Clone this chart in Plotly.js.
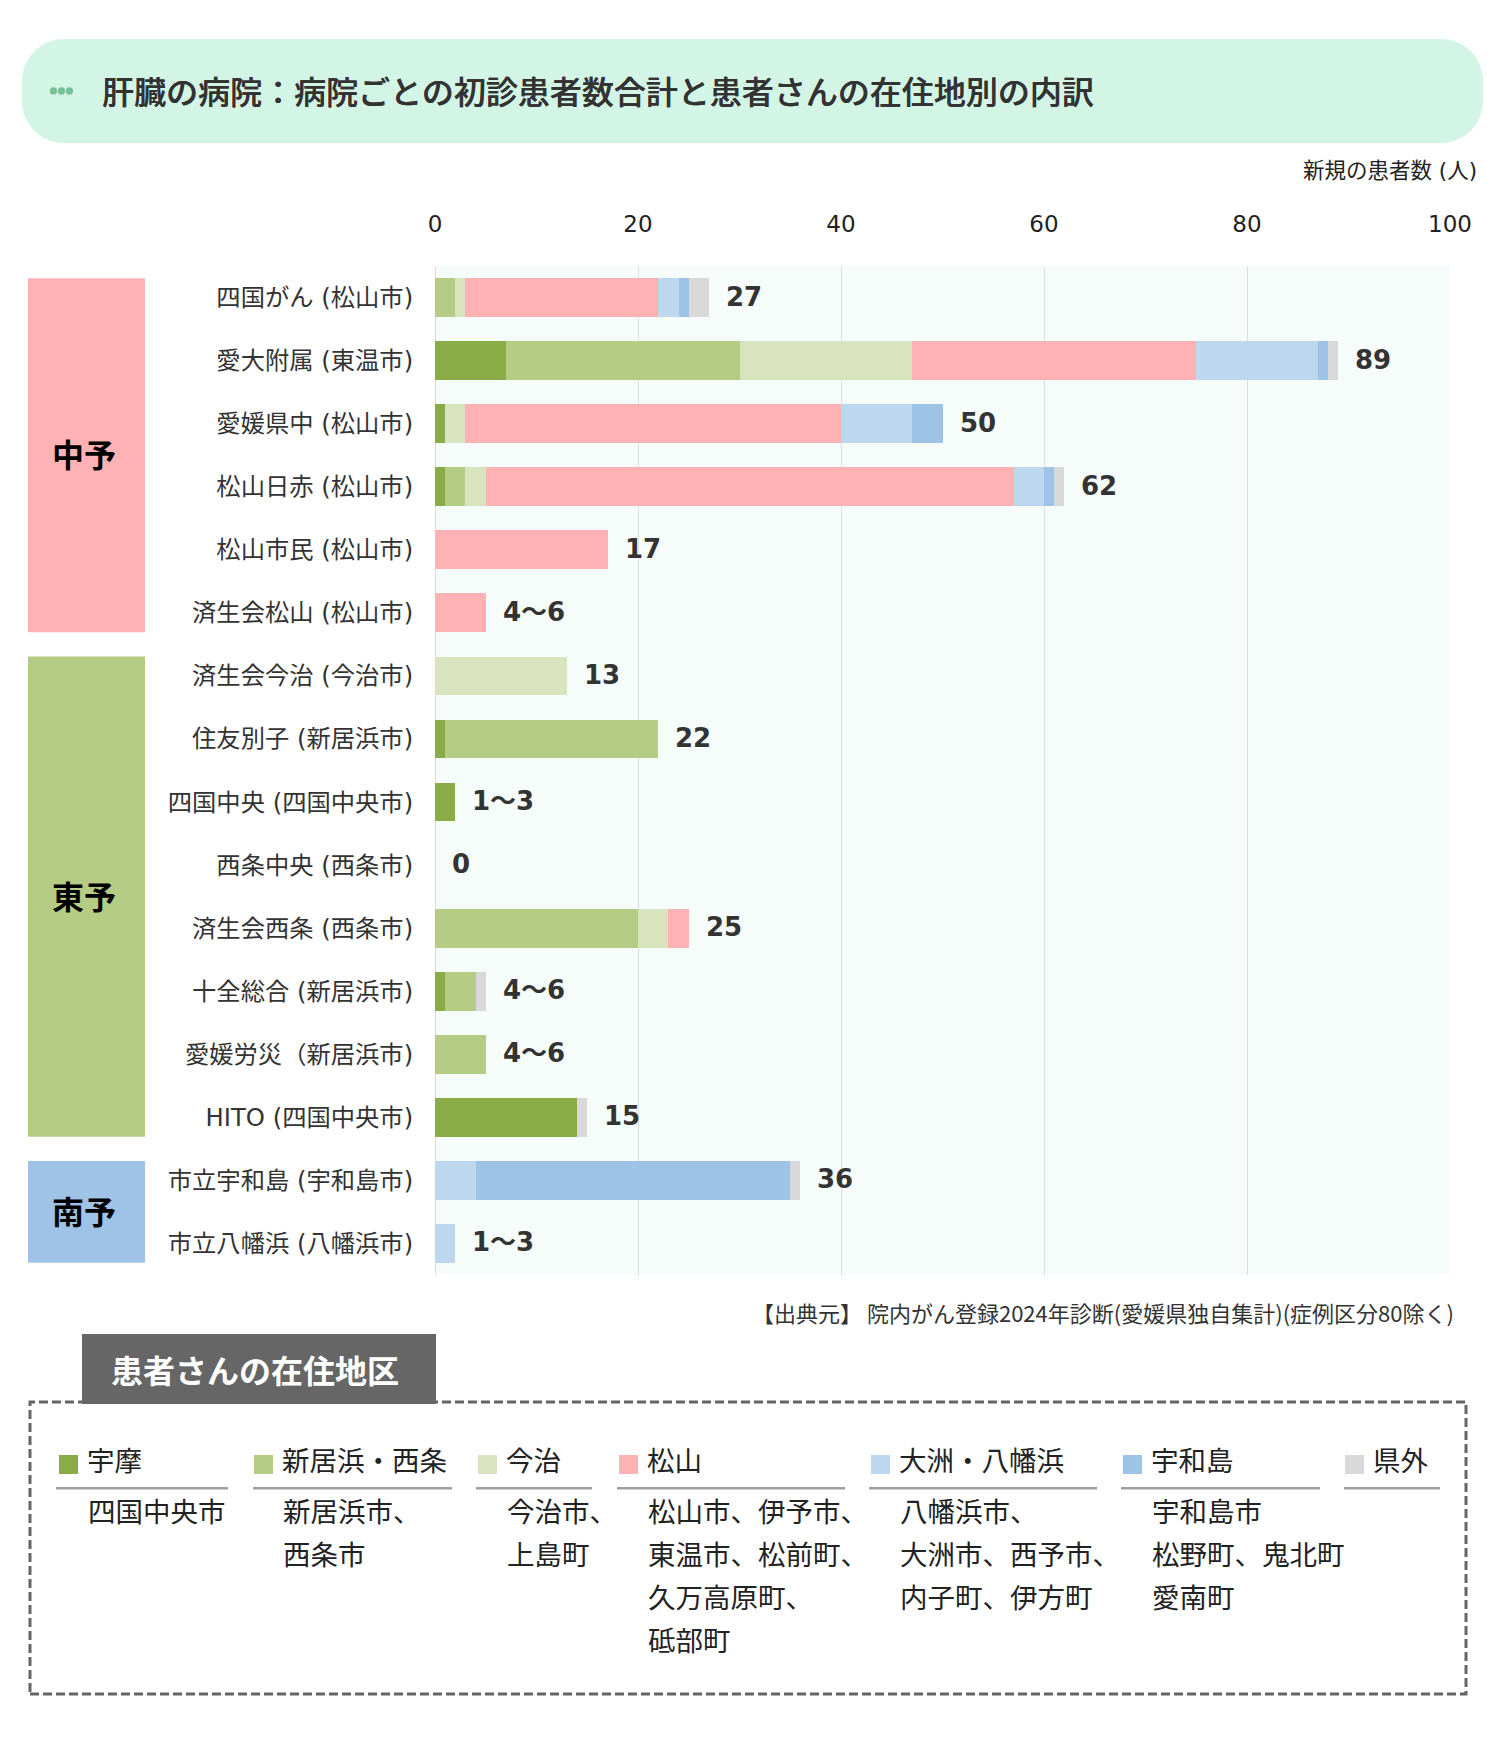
<!DOCTYPE html>
<html><head><meta charset="utf-8">
<script src="https://cdn.plot.ly/plotly-3.0.1.min.js"></script>
<style>html,body{margin:0;padding:0;background:#fff}#chart{width:1500px;height:1740px}</style>
</head><body><div id="chart"></div><script>
// ---------- data ----------
const hospitals = [
  "四国がん (松山市)","愛大附属 (東温市)","愛媛県中 (松山市)","松山日赤 (松山市)",
  "松山市民 (松山市)","済生会松山 (松山市)","済生会今治 (今治市)","住友別子 (新居浜市)",
  "四国中央 (四国中央市)","西条中央 (西条市)","済生会西条 (西条市)","十全総合 (新居浜市)",
  "愛媛労災（新居浜市)","HITO (四国中央市)","市立宇和島 (宇和島市)","市立八幡浜 (八幡浜市)"
];
const valueLabels = ["27","89","50","62","17","4〜6","13","22","1〜3","0","25","4〜6","4〜6","15","36","1〜3"];
const regionNames = ["宇摩","新居浜・西条","今治","松山","大洲・八幡浜","宇和島","県外"];
const uma           = [0, 7, 1, 1, 0, 0, 0, 1, 2, 0, 0, 1, 0,14, 0, 0];
const niihamaSaijo  = [2,23, 0, 2, 0, 0, 0,21, 0, 0,20, 3, 5, 0, 0, 0];
const imabari       = [1,17, 2, 2, 0, 0,13, 0, 0, 0, 3, 0, 0, 0, 0, 0];
const matsuyama     = [19,28,37,52,17,5, 0, 0, 0, 0, 2, 0, 0, 0, 0, 0];
const ozuYawatahama = [2,12, 7, 3, 0, 0, 0, 0, 0, 0, 0, 0, 0, 0, 4, 2];
const uwajima       = [1, 1, 3, 1, 0, 0, 0, 0, 0, 0, 0, 0, 0, 0,31, 0];
const outside       = [2, 1, 0, 1, 0, 0, 0, 0, 0, 0, 0, 1, 0, 1, 1, 0];
const areaNames = ["中予","東予","南予"];
const areaFirstRow = [0,6,14];
const areaLastRow  = [5,13,15];
const regionMembers = [
  ["四国中央市"],
  ["新居浜市、","西条市"],
  ["今治市、","上島町"],
  ["松山市、伊予市、","東温市、松前町、","久万高原町、","砥部町"],
  ["八幡浜市、","大洲市、西予市、","内子町、伊方町"],
  ["宇和島市","松野町、鬼北町","愛南町"],
  []
];
const xTicks = [0,20,40,60,80,100];
const chartTitle = "肝臓の病院：病院ごとの初診患者数合計と患者さんの在住地別の内訳";
const axisTitle = "新規の患者数 (人)";
const sourceText = "【出典元】 院内がん登録2024年診断(愛媛県独自集計)(症例区分80除く)";
const legendTitle = "患者さんの在住地区";

// ---------- styles ----------
const seriesList = [uma, niihamaSaijo, imabari, matsuyama, ozuYawatahama, uwajima, outside];
const regionColors = ["#8aac46","#b5cc85","#d9e4bf","#ffb2b3","#bdd7ee","#9dc3e6","#d9d9d9"];
const areaColors = ["#ffb2b3","#b5cc85","#9fc3e6"];
const JP = "Noto Sans CJK JP";
const W = 1500, H = 1740, L = 435, T = 266, R = 50, B = 465;
const PW = W - L - R, PH = H - T - B;
const px = p => (p - L) / PW;
const py = p => 1 - (p - T) / PH;
const BAR_FRAC = 0.614;

const traces = seriesList.map((s, i) => ({
  type: "bar", orientation: "h", name: regionNames[i],
  x: s, y: hospitals,
  marker: {color: regionColors[i], line: {width: 0}},
  hoverinfo: "skip", showlegend: false
}));

const totals = hospitals.map((_, r) => seriesList.reduce((a, s) => a + s[r], 0));

function rrPath(x0, y0, x1, y1, r) {
  const k = 0.5523 * r;
  const P = (x, y) => px(x).toFixed(5) + "," + py(y).toFixed(5);
  return "M" + P(x0 + r, y0) + " L" + P(x1 - r, y0) +
    " C" + P(x1 - r + k, y0) + " " + P(x1, y0 + r - k) + " " + P(x1, y0 + r) +
    " L" + P(x1, y1 - r) +
    " C" + P(x1, y1 - r + k) + " " + P(x1 - r + k, y1) + " " + P(x1 - r, y1) +
    " L" + P(x0 + r, y1) +
    " C" + P(x0 + r - k, y1) + " " + P(x0, y1 - r + k) + " " + P(x0, y1 - r) +
    " L" + P(x0, y0 + r) +
    " C" + P(x0, y0 + r - k) + " " + P(x0 + r - k, y0) + " " + P(x0 + r, y0) + " Z";
}
const rect = (x0, y0, x1, y1, fill, extra) => Object.assign({
  type: "rect", xref: "paper", yref: "paper",
  x0: px(x0), x1: px(x1), y0: py(y1), y1: py(y0),
  fillcolor: fill, line: {width: 0}, layer: "above"
}, extra || {});

const shapes = [];
const annotations = [];

// title banner
shapes.push({type: "path", xref: "paper", yref: "paper", path: rrPath(22, 39, 1483, 143, 42),
  fillcolor: "#d3f5e5", line: {width: 0}, layer: "below"});
[53.5, 61.5, 69.5].forEach(cx => shapes.push({type: "circle", xref: "paper", yref: "paper",
  x0: px(cx - 3.6), x1: px(cx + 3.6), y0: py(94.5), y1: py(87.3),
  fillcolor: "#72c295", line: {width: 0}, layer: "above"}));
annotations.push({xref: "paper", yref: "paper", x: px(100), y: py(90), xanchor: "left", yanchor: "middle",
  text: chartTitle, showarrow: false,
  font: {family: JP, size: 32, color: "#333", weight: 500, shadow: "0.35px 0 0 #333"}});

// axis title
annotations.push({xref: "paper", yref: "paper", x: px(1479), y: py(171), xanchor: "right", yanchor: "middle",
  text: axisTitle, showarrow: false, font: {family: "DejaVu Sans, " + JP, size: 21.5, color: "#222"}});

// area boxes
const rowTop = r => T + (r + 0.5 - BAR_FRAC / 2) * PH / hospitals.length;
const rowBot = r => T + (r + 0.5 + BAR_FRAC / 2) * PH / hospitals.length;
areaNames.forEach((n, i) => {
  const y0 = rowTop(areaFirstRow[i]), y1 = rowBot(areaLastRow[i]);
  shapes.push(rect(28, y0, 145, y1, areaColors[i]));
  annotations.push({xref: "paper", yref: "paper", x: px(84), y: py((y0 + y1) / 2 - 2), xanchor: "center", yanchor: "middle",
    text: "<b>" + n + "</b>", showarrow: false, font: {family: JP, size: 32, color: "#000"}});
});

// value labels
hospitals.forEach((h, r) => annotations.push({xref: "x", yref: "y", x: totals[r], y: h,
  xanchor: "left", yanchor: "middle", xshift: 15, yshift: 1, text: "<b>" + valueLabels[r] + "</b>", showarrow: false,
  font: {family: "DejaVu Sans, " + JP, size: 26, color: "#333"}}));

// source
annotations.push({xref: "paper", yref: "paper", x: px(1456), y: py(1312), xanchor: "right", yanchor: "middle",
  text: sourceText, showarrow: false, font: {family: JP, size: 22, color: "#333"}});

// legend box
shapes.push({type: "rect", xref: "paper", yref: "paper", x0: px(30), x1: px(1466), y0: py(1694), y1: py(1402),
  line: {color: "#666", width: 3, dash: "9px,4px"}, fillcolor: "rgba(0,0,0,0)", layer: "above"});
shapes.push(rect(82, 1334, 436, 1404, "#666"));
annotations.push({xref: "paper", yref: "paper", x: px(109), y: py(1369), xanchor: "left", yanchor: "middle",
  text: "<b>" + legendTitle + "</b>", showarrow: false, font: {family: JP, size: 32, color: "#fff"}});

const colSquareX = [59, 254, 478, 619, 871, 1123, 1345];
const colLineX = [[56, 228], [253, 452], [476, 592], [617, 845], [869, 1097], [1121, 1320], [1344, 1440]];
regionNames.forEach((n, i) => {
  const sx = colSquareX[i];
  shapes.push(rect(sx, 1455, sx + 19, 1474, regionColors[i]));
  annotations.push({xref: "paper", yref: "paper", x: px(sx + 26), y: py(1459), xanchor: "left", yanchor: "middle",
    text: n, showarrow: false, font: {family: JP, size: 27.5, color: "#222"}});
  shapes.push(rect(colLineX[i][0], 1487, colLineX[i][1], 1489.5, "#a0a0a0"));
  regionMembers[i].forEach((line, j) => annotations.push({xref: "paper", yref: "paper",
    x: px(sx + 27), y: py(1510 + j * 43), xanchor: "left", yanchor: "middle",
    text: line, showarrow: false, font: {family: JP, size: 27.5, color: "#222"}}));
});

const layout = {
  width: W, height: H,
  margin: {l: L, r: R, t: T, b: B, pad: 0},
  paper_bgcolor: "#fff", plot_bgcolor: "#f6fcf9",
  barmode: "stack", bargap: 1 - BAR_FRAC,
  showlegend: false,
  xaxis: {side: "top", range: [0, 100], tickvals: xTicks, ticktext: xTicks.map(String),
    showgrid: true, gridcolor: "#dddddd", gridwidth: 1, zeroline: true, zerolinecolor: "#dddddd", zerolinewidth: 1,
    showline: false, ticks: "outside", ticklen: 24, tickcolor: "rgba(0,0,0,0)",
    tickfont: {family: "DejaVu Sans", size: 23, color: "#222"}, fixedrange: true},
  yaxis: {type: "category", autorange: "reversed", categoryorder: "array", categoryarray: hospitals,
    showgrid: false, zeroline: false, showline: false, ticks: "outside", ticklen: 16, tickcolor: "rgba(0,0,0,0)",
    tickfont: {family: "DejaVu Sans, " + JP, size: 24.3, color: "#333"}, fixedrange: true},
  shapes: shapes, annotations: annotations
};
Plotly.newPlot("chart", traces, layout, {displayModeBar: false, staticPlot: true});
</script></body></html>
